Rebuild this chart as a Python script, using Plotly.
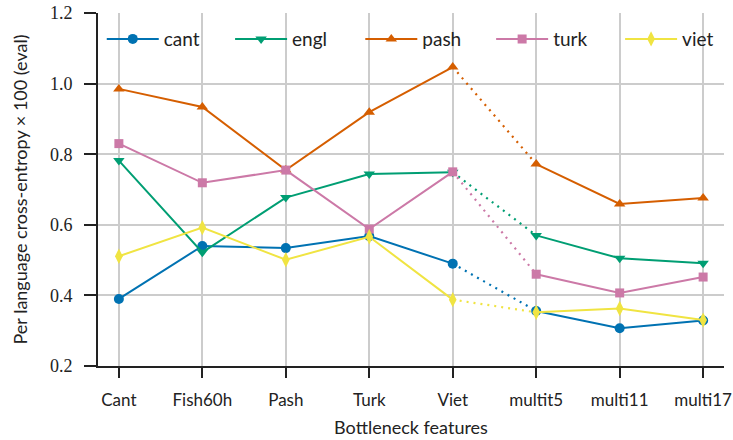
import plotly.graph_objects as go

features = ["Cant", "Fish60h", "Pash", "Turk", "Viet", "multit5", "multi11", "multi17"]

cant = [0.390, 0.540, 0.534, 0.568, 0.490, 0.356, 0.307, 0.329]
engl = [0.782, 0.522, 0.677, 0.744, 0.749, 0.570, 0.505, 0.491]
pash = [0.985, 0.934, 0.755, 0.919, 1.047, 0.772, 0.659, 0.676]
turk = [0.830, 0.719, 0.755, 0.588, 0.750, 0.460, 0.407, 0.452]
viet = [0.511, 0.592, 0.501, 0.566, 0.388, 0.352, 0.363, 0.330]

series = [
    ("cant", cant, "#0072B2", "circle", 10),
    ("engl", engl, "#009E73", "triangle-down", 10),
    ("pash", pash, "#D55E00", "triangle-up", 10),
    ("turk", turk, "#CC79A7", "square", 9),
    ("viet", viet, "#F0E442", "diamond-tall", 11),
]

x_idx = list(range(len(features)))
single_end = 5  # first five are single-language features

SANS = "Lato"
legend_ids = ["legend", "legend2", "legend3", "legend4", "legend5"]

fig = go.Figure()
for (name, vals, color, sym, size), lg in zip(series, legend_ids):
    # single-language segment
    fig.add_trace(go.Scatter(
        x=x_idx[:single_end], y=vals[:single_end], mode="lines+markers",
        name=name, legendgroup=name, showlegend=True, legend=lg,
        line=dict(color=color, width=2),
        marker=dict(symbol=sym, size=size, color=color),
    ))
    # transition to multilingual
    fig.add_trace(go.Scatter(
        x=x_idx[single_end - 1:single_end + 1], y=vals[single_end - 1:single_end + 1],
        mode="lines", legendgroup=name, showlegend=False,
        line=dict(color=color, width=2.2, dash="2px,5px"),
    ))
    # multilingual segment
    fig.add_trace(go.Scatter(
        x=x_idx[single_end:], y=vals[single_end:], mode="lines+markers",
        legendgroup=name, showlegend=False,
        line=dict(color=color, width=2),
        marker=dict(symbol=sym, size=size, color=color),
    ))

legend_style = dict(
    orientation="h", xanchor="left", yanchor="top", y=0.98,
    bgcolor="rgba(255,255,255,0)", font=dict(family=SANS, size=19, color="#222222"),
    itemwidth=52,
)
legend_x = [0.006, 0.211, 0.419, 0.628, 0.834]
legend_layout = {lg: dict(legend_style, x=lx) for lg, lx in zip(legend_ids, legend_x)}

fig.update_layout(
    width=733, height=440,
    margin=dict(l=98, r=9, t=13, b=74),
    plot_bgcolor="white", paper_bgcolor="white",
    font=dict(family=SANS, size=17, color="#222222"),
    showlegend=True,
    **legend_layout,
)
fig.update_xaxes(
    range=[-0.25, 7.25], tickmode="array", tickvals=x_idx, ticktext=features,
    showgrid=True, gridcolor="#cccccc", gridwidth=1.5,
    showline=True, linecolor="#222222", linewidth=2,
    ticks="outside", ticklen=10, tickwidth=2, tickcolor="#222222",
    tickfont=dict(size=17), zeroline=False, ticklabelstandoff=8,
    automargin=False,
    title=dict(text="Bottleneck features", font=dict(size=18), standoff=12),
)
fig.update_yaxes(
    range=[0.2, 1.2], tickvals=[0.2, 0.4, 0.6, 0.8, 1.0, 1.2],
    ticktext=["0.2", "0.4", "0.6", "0.8", "1.0", "1.2"],
    showgrid=True, gridcolor="#cccccc", gridwidth=1.5,
    showline=True, linecolor="#222222", linewidth=2,
    ticks="outside", ticklen=12, tickwidth=2, tickcolor="#222222",
    tickfont=dict(family="Liberation Serif", size=18), zeroline=False,
    ticklabelstandoff=8, automargin=False,
    title=dict(text="Per language cross-entropy × 100 (eval)", font=dict(size=18), standoff=18),
)

fig.write_html("out.html")
